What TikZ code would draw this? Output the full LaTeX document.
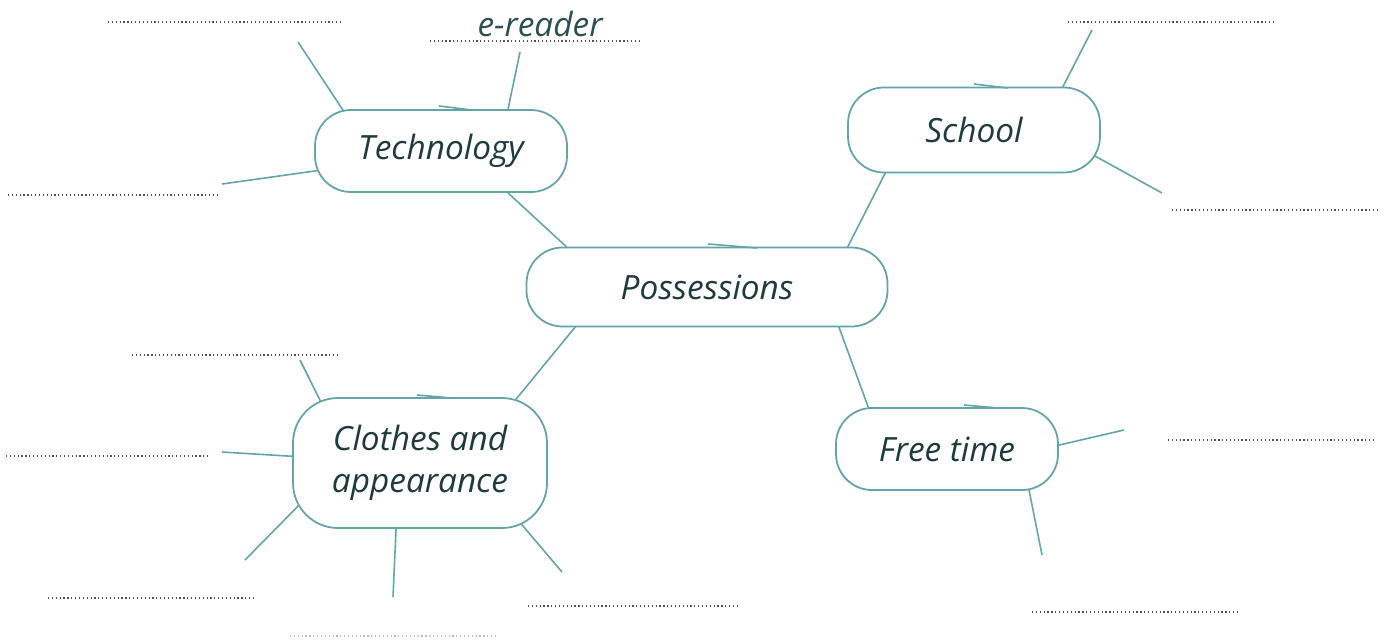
\documentclass[tikz,border=0pt]{standalone}
\usepackage{fontspec}
\setmainfont{Open Sans}
\usepackage{tikz}
\usetikzlibrary{backgrounds}

\definecolor{linkcol}{RGB}{98,164,168}
\definecolor{inkcol}{RGB}{30,58,60}
\definecolor{dotcol}{RGB}{80,80,80}

\tikzset{
  topic/.style={draw=linkcol, line width=0.5pt, fill=white, rounded corners=3.6mm,
    text=inkcol, font=\fontsize{9.5}{12}\selectfont\itshape, align=center, inner sep=0pt},
  link/.style={draw=linkcol, line width=0.45pt, shorten >=-1.5mm},
  blank/.style={draw=dotcol, line width=0.6pt, dash pattern=on 0.35pt off 0.75pt},
}

\begin{document}
\begin{tikzpicture}[x=0.1mm, y=-0.1mm]
\useasboundingbox (0,0) rectangle (1388,640);

% Topics
\node[topic, minimum width=25.2mm, minimum height=8.2mm] (tech) at (441,151) {Technology};
\node[topic, minimum width=25.2mm, minimum height=8.5mm] (school) at (974,130) {School};
\node[topic, minimum width=36.1mm, minimum height=7.9mm] (poss) at (707,287) {Possessions};
\node[topic, minimum width=25.4mm, minimum height=13mm, rounded corners=4.5mm] (clothes) at (420,463) {Clothes and\\appearance};
\node[topic, minimum width=22.2mm, minimum height=8.2mm] (free) at (947,449) {Free time};

% Free ends
\coordinate (t1) at (298,42);
\coordinate (t2) at (520,52);
\coordinate (t3) at (222,184);
\coordinate (s1) at (1092,30);
\coordinate (s2) at (1162,193);
\coordinate (c1) at (300,360);
\coordinate (c2) at (222,452);
\coordinate (c3) at (245,560);
\coordinate (c4) at (393,597);
\coordinate (c5) at (562,572);
\coordinate (f1) at (1124,430);
\coordinate (f2) at (1042,555);

% Connectors
\begin{scope}[on background layer]
\draw[link] (t1) -- (tech.157);
\draw[link] (t2) -- (tech.32);
\draw[link] (t3) -- (tech.189);
\draw[link] (s1) -- (school.26);
\draw[link] (s2) -- (school.347);
\draw[link] (c1) -- (clothes.147);
\draw[link] (c2) -- (clothes.177);
\draw[link] (c3) -- (clothes.201);
\draw[link] (c4) -- (clothes.250);
\draw[link] (c5) -- (clothes.328);
\draw[link] (f1) -- (free.2);
\draw[link] (f2) -- (free.333);
\draw[link, shorten <=-1.5mm] (tech.328) -- (poss.164);
\draw[link, shorten <=-1.5mm] (school.206) -- (poss.16);
\draw[link, shorten <=-1.5mm] (poss.197) -- (clothes.34);
\draw[link, shorten <=-1.5mm] (poss.343) -- (free.152);
\end{scope}

% Pen overlaps on top of the bubbles
\draw[link, shorten >=0pt] (439,106) -- (472,110);
\draw[link, shorten >=0pt] (708,244) -- (757,248);
\draw[link, shorten >=0pt] (974,84) -- (1008,88);
\draw[link, shorten >=0pt] (964,405) -- (998,408);
\draw[link, shorten >=0pt] (417,395) -- (452,398);

% Blanks
\draw[blank] (108,22) -- (340,22);
\draw[blank] (430,41) -- (640,41);
\draw[blank] (8,195) -- (220,195);
\draw[blank] (1068,22) -- (1275,22);
\draw[blank] (1172,210) -- (1378,210);
\draw[blank] (1168,440) -- (1375,440);
\draw[blank] (1032,612) -- (1240,612);
\draw[blank] (528,606) -- (737,606);
\draw[blank] (48,598) -- (255,598);
\draw[blank] (132,355) -- (338,355);
\draw[blank] (6,456) -- (210,456);
\draw[blank, draw=dotcol!40] (290,636) -- (498,636);

% Example answer
\node[text=inkcol!80!linkcol, font=\fontsize{9.5}{12}\selectfont\itshape] (ereader) at (540,24) {e-reader};
\end{tikzpicture}
\end{document}
